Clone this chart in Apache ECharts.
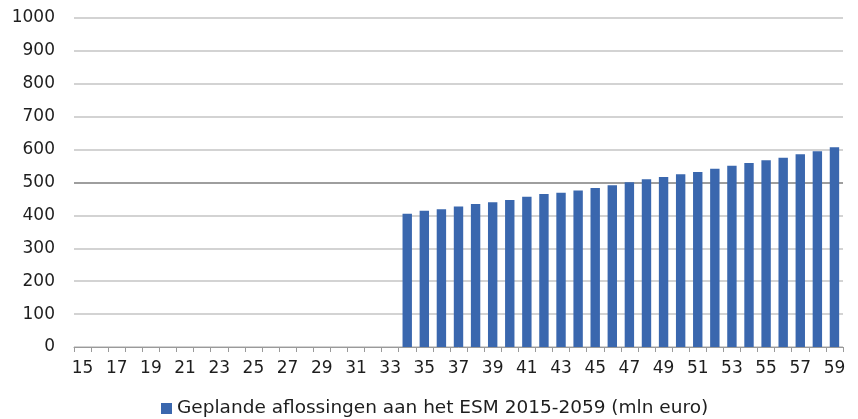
<!DOCTYPE html>
<html>
<head>
<meta charset="utf-8">
<script src="https://cdn.jsdelivr.net/npm/echarts@6/dist/echarts.min.js"></script>
<style>
  html, body { margin: 0; padding: 0; background: #fff; }
  #chart { width: 858px; height: 419px; }
</style>
</head>
<body>
<div id="chart"></div>
<script>
// jaren 2015-2059 (as op de grafiek: laatste twee cijfers)
const years = ['15','16','17','18','19','20','21','22','23','24','25','26','27','28','29',
  '30','31','32','33','34','35','36','37','38','39','40','41','42','43','44',
  '45','46','47','48','49','50','51','52','53','54','55','56','57','58','59'];

// geplande aflossingen (mln euro), geen aflossing tot 2033
const repayments = [null, null, null, null, null, null, null, null, null, null,
  null, null, null, null, null, null, null, null, null,
  405, 414, 419, 427, 435, 440, 447, 457, 465, 469, 476, 483, 492,
  501, 510, 517, 525, 532, 542, 551, 559, 568, 575, 586, 595, 607];

const yTicks = { min: 0, max: 1000, interval: 100 };
const seriesName = 'Geplande aflossingen aan het ESM 2015-2059 (mln euro)';

const font = "'DejaVu Sans'";

const chart = echarts.init(document.getElementById('chart'));

const option = {
  animation: false,
  textStyle: { fontFamily: font },
  grid: { left: 74, right: 15, top: 18, bottom: 72 },
  legend: {
    top: 399,
    left: 161,
    padding: 0,
    itemWidth: 11,
    itemHeight: 11,
    itemGap: 4,
    icon: 'rect',
    textStyle: { fontSize: 18.5, color: '#1e1e1e', fontFamily: font },
    data: [seriesName]
  },
  xAxis: {
    type: 'category',
    data: years,
    axisLine: { lineStyle: { color: '#9a9a9a', width: 1 } },
    axisTick: { show: true, length: 5, interval: 0, lineStyle: { color: '#9a9a9a' } },
    axisLabel: { interval: 1, fontSize: 17, color: '#1e1e1e', margin: 13, fontFamily: font }
  },
  yAxis: {
    type: 'value',
    min: yTicks.min,
    max: yTicks.max,
    interval: yTicks.interval,
    axisLine: { show: false },
    axisTick: { show: false },
    axisLabel: { fontSize: 17, color: '#1e1e1e', margin: 19, fontFamily: font, formatter: v => String(v) },
    splitLine: { lineStyle: { color: '#c4c4c4', width: 1.5 } }
  },
  series: [{
    name: seriesName,
    type: 'bar',
    data: repayments,
    barCategoryGap: '45%',
    itemStyle: { color: '#3a67ae' },
    markLine: {
      silent: true,
      symbol: 'none',
      label: { show: false },
      lineStyle: { color: '#8c8c8c', width: 1.5, type: 'solid' },
      data: [{ yAxis: 500 }],
      z: 1
    }
  }]
};

chart.setOption(option);
</script>
</body>
</html>
